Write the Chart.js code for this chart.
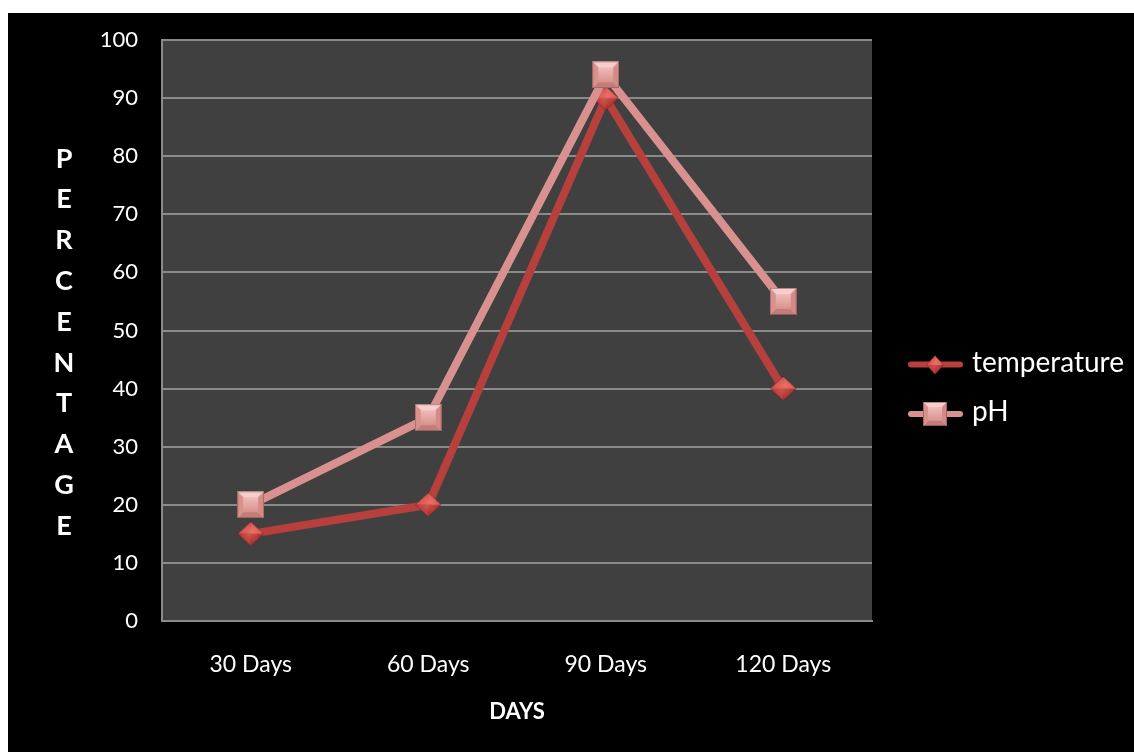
<!DOCTYPE html>
<html>
<head>
<meta charset="utf-8">
<script src="https://cdn.jsdelivr.net/npm/chart.js@4.4.1/dist/chart.umd.min.js"></script>
<style>
  html, body { margin: 0; padding: 0; background: #fff; width: 1134px; height: 752px; overflow: hidden; }
  #frame { position: absolute; left: 8px; top: 13px; width: 1126px; height: 739px; background: #000; }
  canvas { display: block; }
</style>
</head>
<body>
<div id="frame"><canvas id="chart" width="1126" height="739"></canvas></div>
<script>
// ---- data ----
const categories = ['30 Days', '60 Days', '90 Days', '120 Days'];
const seriesNames = ['temperature', 'pH'];
const temperature = [15, 20, 90, 40];
const ph = [20, 35, 94, 55];
const yAxisTitle = 'PERCENTAGE';
const xAxisTitle = 'DAYS';

// ---- styling ----
const tempColor = '#b7403d';
const phColor = '#d8918e';
const gridColor = '#8a8a8a';
const plotFill = '#404040';

// Bevelled diamond marker
function diamondSprite(w, h) {
  const c = document.createElement('canvas');
  c.width = w; c.height = h;
  const g = c.getContext('2d');
  const cx = w / 2, cy = h / 2;
  const top = [cx, 0.5], right = [w - 0.5, cy], bottom = [cx, h - 0.5], left = [0.5, cy];
  const facet = (a, b, col) => {
    g.beginPath(); g.moveTo(cx, cy); g.lineTo(a[0], a[1]); g.lineTo(b[0], b[1]); g.closePath();
    g.fillStyle = col; g.fill();
  };
  facet(left, top, '#d64e49');
  facet(top, right, '#df5a54');
  facet(right, bottom, '#a62e2b');
  facet(bottom, left, '#b53733');
  g.beginPath(); g.moveTo(...top); g.lineTo(...right); g.lineTo(...bottom); g.lineTo(...left); g.closePath();
  g.save(); g.clip();
  const rg = g.createRadialGradient(cx, cy - h * 0.12, 0, cx, cy, w * 0.45);
  rg.addColorStop(0, 'rgba(255,140,130,0.45)');
  rg.addColorStop(1, 'rgba(255,140,130,0)');
  g.fillStyle = rg; g.fillRect(0, 0, w, h);
  g.restore();
  g.setLineDash([1, 1]);
  g.lineWidth = 1;
  g.strokeStyle = 'rgba(70,25,25,0.75)';
  g.stroke();
  return c;
}

// Bevelled (pillow) square marker
function squareSprite(s) {
  const c = document.createElement('canvas');
  c.width = s; c.height = s;
  const g = c.getContext('2d');
  const b = Math.round(s * 0.22);
  g.fillStyle = '#e3a3a0'; g.fillRect(0, 0, s, s);
  const trap = (pts, col) => {
    g.beginPath(); g.moveTo(pts[0][0], pts[0][1]);
    for (let i = 1; i < pts.length; i++) g.lineTo(pts[i][0], pts[i][1]);
    g.closePath(); g.fillStyle = col; g.fill();
  };
  trap([[0, 0], [s, 0], [s - b, b], [b, b]], '#f6cfcc');
  trap([[0, s], [s, s], [s - b, s - b], [b, s - b]], '#c27c79');
  trap([[0, 0], [b, b], [b, s - b], [0, s]], '#d9918e');
  trap([[s, 0], [s - b, b], [s - b, s - b], [s, s]], '#d38b88');
  const lg = g.createLinearGradient(0, b, 0, s - b);
  lg.addColorStop(0, '#f0bcb9');
  lg.addColorStop(1, '#d8928f');
  g.fillStyle = lg; g.fillRect(b, b, s - 2 * b, s - 2 * b);
  g.setLineDash([1, 1]);
  g.lineWidth = 1;
  g.strokeStyle = 'rgba(80,40,40,0.8)';
  g.strokeRect(0.5, 0.5, s - 1, s - 1);
  return c;
}

const markers = {
  temperature: { plot: diamondSprite(27, 25), key: diamondSprite(18, 20) },
  pH: { plot: squareSprite(27), key: squareSprite(24) }
};

// Plot background, stacked vertical axis title and the legend
const decor = {
  id: 'decor',
  beforeDraw(chart) {
    const { ctx, chartArea: a } = chart;
    ctx.save();
    ctx.fillStyle = plotFill;
    ctx.fillRect(a.left, a.top, a.right - a.left, a.bottom - a.top);
    ctx.restore();
  },
  afterDraw(chart) {
    const { ctx, chartArea: a } = chart;
    const mid = (a.top + a.bottom) / 2;
    ctx.save();
    // vertical title, one letter per line
    ctx.fillStyle = '#fff';
    ctx.font = 'bold 27px Lato';
    ctx.textAlign = 'center';
    ctx.textBaseline = 'middle';
    const letters = yAxisTitle.split('');
    const step = 40.8;
    letters.forEach((ch, i) => {
      ctx.fillText(ch, a.left - 98, mid + 12 + (i - (letters.length - 1) / 2) * step);
    });
    // legend
    ctx.font = '28px Lato';
    ctx.textAlign = 'left';
    ctx.textBaseline = 'alphabetic';
    chart.data.datasets.forEach((ds, i) => {
      const y = mid + 34 + i * 49.5;
      ctx.strokeStyle = ds.borderColor;
      ctx.lineWidth = 6;
      ctx.lineCap = 'round';
      ctx.beginPath(); ctx.moveTo(a.right + 39, y); ctx.lineTo(a.right + 88, y); ctx.stroke();
      const m = markers[ds.label].key;
      ctx.drawImage(m, Math.round(a.right + 63 - m.width / 2), Math.round(y - m.height / 2));
      ctx.fillStyle = '#fff';
      ctx.fillText(ds.label, a.right + 100, y + 7);
    });
    ctx.restore();
  }
};

new Chart(document.getElementById('chart'), {
  type: 'line',
  data: {
    labels: categories,
    datasets: [
      {
        label: seriesNames[0], data: temperature, order: 2,
        borderColor: tempColor, borderWidth: 8, tension: 0,
        borderJoinStyle: 'round', borderCapStyle: 'round',
        pointStyle: markers.temperature.plot, pointRadius: 13, pointHoverRadius: 13
      },
      {
        label: seriesNames[1], data: ph, order: 1,
        borderColor: phColor, borderWidth: 8, tension: 0,
        borderJoinStyle: 'round', borderCapStyle: 'round',
        pointStyle: markers.pH.plot, pointRadius: 13, pointHoverRadius: 13
      }
    ]
  },
  options: {
    responsive: false,
    animation: false,
    devicePixelRatio: 1,
    layout: { padding: { left: 0, top: 27, right: 262, bottom: 0 } },
    plugins: { legend: { display: false }, tooltip: { enabled: false } },
    scales: {
      x: {
        offset: true,
        grid: { display: true, drawOnChartArea: false, drawTicks: false },
        border: { color: gridColor, width: 2 },
        ticks: { color: '#fff', font: { family: 'Lato', size: 23 }, padding: 30 },
        title: { display: true, text: xAxisTitle, color: '#fff', font: { family: 'Lato', size: 22, weight: 'bold' }, padding: { top: 0, bottom: 27 } },
        afterFit(scale) { scale.height = 131; }
      },
      y: {
        min: 0, max: 100,
        ticks: { stepSize: 10, color: '#fff', font: { family: 'Lato', size: 22 }, padding: 24 },
        grid: { color: gridColor, lineWidth: 2, drawTicks: false },
        border: { color: gridColor, width: 2 },
        afterFit(scale) { scale.width = 154; scale.paddingTop = 0; scale.paddingBottom = 0; }
      }
    }
  },
  plugins: [decor]
});
</script>
</body>
</html>
